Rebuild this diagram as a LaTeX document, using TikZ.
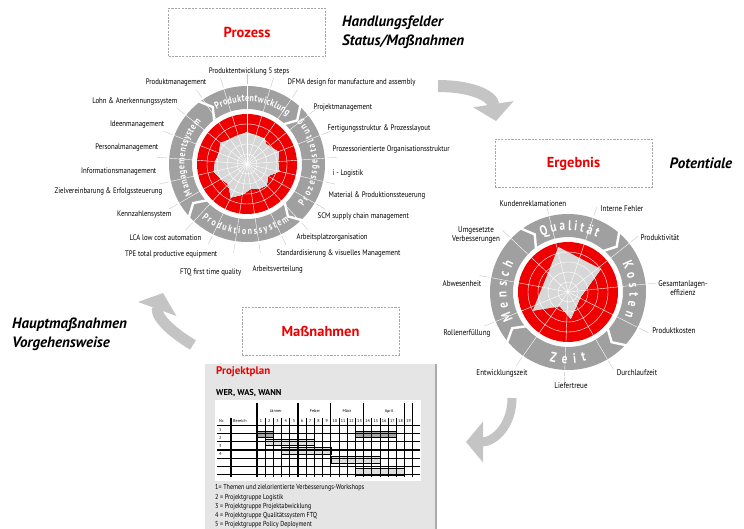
\documentclass[tikz,border=0pt]{standalone}
\usepackage{fontspec}
\setmainfont{PT Sans}
\newfontfamily\narrowfont[FakeStretch=0.85]{PT Sans}
\newfontfamily\ringfont[FakeStretch=0.8]{PT Sans}
\usetikzlibrary{positioning,arrows.meta,decorations.text}

\definecolor{wheelred}{RGB}{238,0,0}
\definecolor{ringgray}{RGB}{160,160,160}
\definecolor{radargray}{RGB}{215,215,215}
\definecolor{arrowgray}{RGB}{196,196,196}
\definecolor{panelgray}{RGB}{229,229,229}

\newcommand\ringsmall{\ringfont\fontsize{10}{10}\selectfont\bfseries}
\newcommand\ringlarge{\ringfont\fontsize{14}{14}\selectfont\bfseries}

\tikzset{
  pics/wheel/.style n args={4}{
    code = {
        \fill[ringgray, even odd rule] (0,0) circle[radius=78pt] (0,0) circle[radius=55pt];
        \foreach \b in {#4}
            \draw[white, line width=2.4pt] (\b:80pt) -- ({\b-7}:66.5pt) -- (\b:53pt);
        \fill[wheelred] (0,0) circle[radius=50pt];
        \gdef\radarpath{}
        \foreach \a/\rr in {#3}
            \xdef\radarpath{\radarpath (\a:\rr pt) --}
        \fill[radargray] \radarpath cycle;
        \foreach \rr in {10,20,30,40}
            \draw[white, line width=0.4pt] (0,0) circle[radius=\rr pt];
        \foreach \k in {1,...,#1} {
            \pgfmathsetmacro\ang{#2-(\k-1)*360/#1}
            \draw[white, line width=0.4pt] (0,0) -- (\ang:78pt);
            \draw[gray!45, line width=0.4pt] (\ang:80pt) -- (\ang:90pt);
        }
    }
  },
  ring text/.style 2 args={decorate, decoration={text along path, text={|#1|#2}, text align=fit to path, text color=white}},
  boxed/.style={draw=gray!70, dash pattern=on 2.2pt off 1.2pt, line width=0.9pt, minimum width=157pt, minimum height=48pt, text=wheelred, font=\fontsize{14.5}{16}\selectfont\bfseries},
  side text/.style={font=\fontsize{15}{19}\selectfont\bfseries\itshape, align=left, inner sep=0pt},
  lbl/.style={font=\narrowfont\fontsize{8}{9}\selectfont, inner sep=0.5pt},
  big arrow/.style={arrowgray, line width=#1, -{Triangle[length=17pt, width=40pt]}},
  gantt text/.style={font=\fontsize{4.2}{4.2}\selectfont, inner sep=0pt},
  legend/.style={font=\narrowfont\fontsize{7.2}{8}\selectfont, inner sep=0pt, anchor=west},
}

\begin{document}
\begin{tikzpicture}[x=1pt, y=-1pt]
    \useasboundingbox (0,0) rectangle (744,529);
    \clip (0,0) rectangle (744,529);

    % the three steps
    \node[boxed] (prozess) at (247,32.5) {Prozess};
    \node[side text, right=16pt of prozess] (handlung) {Handlungsfelder\\Status/Maßnahmen};
    \node[boxed] (ergebnis) at (573.5,163.5) {Ergebnis};
    \node[side text, right=17pt of ergebnis] (potential) {Potentiale};
    \node[boxed] (massnahmen) at (320.5,331) {Maßnahmen};
    \node[side text, anchor=west] (haupt) at (12,334) {Hauptmaßnahmen\\Vorgehensweise};

    % left wheel
    \coordinate (lw) at (247,164);
    \pic (leftwheel) at (lw) {wheel={21}{90}{90/32, 72.9/24, 55.7/31, 38.6/25, 21.4/34, 4.3/31, -12.9/33, -30/24, -47.1/29, -64.3/27.5, -81.4/25, -98.6/31, -115.7/37, -132.9/27.5, -150/30, -167.1/34, 175.7/32, 158.6/30, 141.4/34, 124.3/25, 107.1/30}{128,48,-45,-137}};
    \path[ring text={\ringsmall}{Produktentwicklung}] ([shift={(119:62.5pt)}]lw) arc[start angle=119, end angle=50, radius=62.5pt];
    \path[ring text={\ringsmall}{Prozessgestaltung}] ([shift={(-37:70.5pt)}]lw) arc[start angle=-37, end angle=40, radius=70.5pt];
    \path[ring text={\ringsmall}{Produktionssystem}] ([shift={(-130:70.5pt)}]lw) arc[start angle=-130, end angle=-53, radius=70.5pt];
    \path[ring text={\ringsmall}{Managementsystem}] ([shift={(209:62.5pt)}]lw) arc[start angle=209, end angle=137, radius=62.5pt];

    \node[lbl] (pe) at (249,72) {Produktentwicklung 5 steps};
    \foreach \x/\y/\t [count=\i] in {287/83/DFMA design for manufacture and assembly, 313/108/Projektmanagement, 327/129/Fertigungsstruktur \& Prozesslayout, 332/150/Prozessorientierte Organisationsstruktur, 332/174/i - Logistik, 328/196/Material \& Produktionssteuerung, 317/217/SCM supply chain management, 296/238/Arbeitsplatzorganisation, 276/254/Standardisierung \& visuelles Management, 252/270/Arbeitsverteilung}
        \node[lbl, anchor=west] (pr\i) at (\x,\y) {\t};
    \foreach \x/\y/\t [count=\i] in {242/272/FTQ first time quality, 218/254/TPE total productive equipment, 202/238/LCA low cost automation, 172/215/Kennzahlensystem, 163/192/Zielvereinbarung \& Erfolgssteuerung, 157/172/Informationsmanagement, 159/148/Personalmanagement, 165/125/Ideenmanagement, 178/102/Lohn \& Anerkennungssystem, 207/83/Produktmanagement}
        \node[lbl, anchor=east] (pl\i) at (\x,\y) {\t};

    % right wheel
    \coordinate (rw) at (568,292);
    \pic (rightwheel) at (rw) {wheel={11}{104}{102/46, 61/15, 35/40, -23/13.5, -84/27, -120/16.5, -152/40, 137/18}{127,50,-42,-140}};
    \path[ring text={\ringlarge}{Qualität}] ([shift={(115:61.5pt)}]rw) arc[start angle=115, end angle=62, radius=61.5pt];
    \path[ring text={\ringlarge}{Kosten}] ([shift={(28:61.5pt)}]rw) arc[start angle=28, end angle=-23, radius=61.5pt];
    \path[ring text={\ringlarge}{Zeit}] ([shift={(-105:71.5pt)}]rw) arc[start angle=-105, end angle=-75, radius=71.5pt];
    \path[ring text={\ringlarge}{Mensch}] ([shift={(207:61.5pt)}]rw) arc[start angle=207, end angle=152, radius=61.5pt];

    \foreach \x/\y/\t [count=\i] in {533/204/Kundenreklamationen, 622/209/Interne Fehler, 660/238/Produktivität, 683/288/Gesamtanlagen-\\effizienz, 674/331/Produktkosten, 637/373/Durchlaufzeit, 571/386/Liefertreue, 502/373/Entwicklungszeit, 467/333/Rollenerfüllung, 462/284/Abwesenheit, 476/235/Umgesetzte\\Verbesserungen}
        \node[lbl, font=\narrowfont\fontsize{8.3}{9}\selectfont, align=center] (er\i) at (\x,\y) {\t};

    % cycle arrows
    \coordinate (topfrom) at (438,86);
    \coordinate (topto) at (496,121);
    \draw[big arrow=12pt] (topfrom) .. controls +(32,0) and +(-4,-26) .. (topto);
    \coordinate (rightfrom) at (512,398);
    \coordinate (rightto) at (466,442);
    \draw[big arrow=9pt] (rightfrom) .. controls +(0,28) and +(28,0) .. (rightto);
    \coordinate (leftfrom) at (193,345);
    \coordinate (leftto) at (163,293);
    \draw[big arrow=11pt] (leftfrom) .. controls +(-25,-15) and +(-8,22) .. (leftto);

    % project plan
    \fill[panelgray] (205,364) rectangle (435,529);
    \draw[gray!65, line width=2pt] (436,364) -- (436,529);
    \node[anchor=west, text=wheelred, font=\fontsize{11}{12}\selectfont\bfseries, inner sep=0pt] (plantitle) at (216,372) {Projektplan};
    \node[below=21pt of plantitle.west, anchor=west, font=\fontsize{8.5}{9}\selectfont\bfseries, inner sep=0pt] (planhead) {WER, WAS, WANN};
    \fill[white] (215,400) rectangle (421,481);

    \def\colw{8.2}
    \foreach \a/\b/\y/\f in {1/2/431/gray!70, 13/17/431/gray!70, 2/7/439/gray!25, 4/9/447.5/gray!25, 10/15/456.5/gray!25, 13/18/468.5/gray!25}
        \filldraw[fill=\f, line width=0.6pt] (257+\a*\colw-\colw,\y) rectangle (257+\b*\colw,\y+6.5);
    \foreach \c in {1,...,18}
        \draw[line width=0.7pt] (257+\c*\colw,418) -- (257+\c*\colw,477);
    \foreach \c in {0,5,9,13,18,19}
        \draw[line width=1.3pt] (257+\c*\colw,403) -- (257+\c*\colw,477);
    \draw[line width=1.3pt] (231,418) -- (231,477);
    \foreach \r in {0,...,6}
        \draw[line width=1.1pt] (217,425.7+\r*8.1) -- (420,425.7+\r*8.1);

    \foreach \x/\m [count=\i] in {276/Jänner, 315/Feber, 347/März, 389/April}
        \node[gantt text] (month\i) at (\x,411) {\m};
    \node[gantt text, anchor=west] (nr) at (219,421.5) {Nr.};
    \node[gantt text, anchor=west] (bereich) at (233,421.5) {Bereich};
    \foreach \c in {1,...,19}
        \node[gantt text] (week\c) at (257+\c*\colw-\colw/2,421.5) {\c};
    \foreach \r in {1,...,4}
        \node[gantt text, anchor=west] (row\r) at (219,421.6+\r*8.1) {\r};

    \foreach \t [count=\i] in {1= Themen und zielorientierte Verbesserungs-Workshops, 2 = Projektgruppe Logistik, 3 = Projektgruppe Projektabwicklung, 4 = Projektgruppe Qualitätssystem FTQ, 5 = Projektgruppe Policy Deployment}
        \node[legend] (leg\i) at (215,478.7+9.3*\i) {\t};
\end{tikzpicture}
\end{document}
